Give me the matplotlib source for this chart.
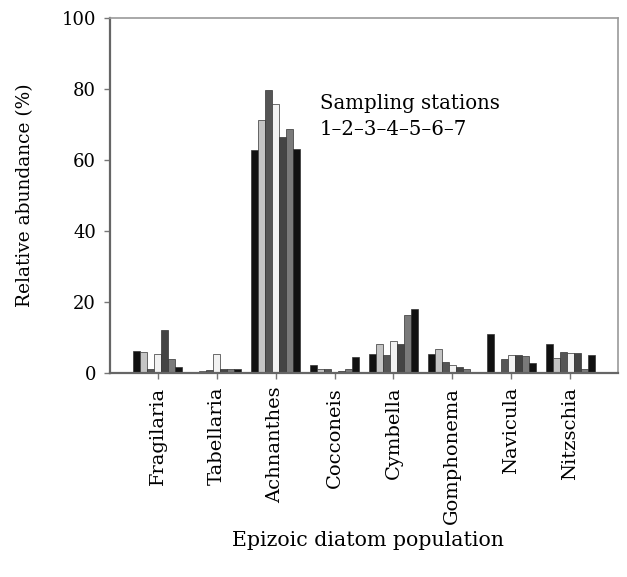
import matplotlib
matplotlib.use("Agg")
import matplotlib.pyplot as plt
import numpy as np

# genera on the x axis
genera = ["Fragilaria", "Tabellaria", "Achnanthes", "Cocconeis",
          "Cymbella", "Gomphonema", "Navicula", "Nitzschia"]

# relative abundance (%) per sampling station, one list per station
station_1 = [6.1, 0.3, 62.7, 2.2, 5.4, 5.3, 11.0, 8.3]
station_2 = [6.0, 0.5, 71.2, 1.2, 8.3, 6.7, 0.3, 4.3]
station_3 = [1.2, 0.8, 79.6, 1.0, 5.2, 3.1, 3.9, 6.0]
station_4 = [5.3, 5.3, 75.9, 0.4, 8.9, 2.2, 5.2, 5.5]
station_5 = [12.0, 1.0, 66.4, 0.5, 8.3, 1.8, 5.1, 5.5]
station_6 = [3.9, 1.0, 68.6, 1.0, 16.2, 1.2, 4.7, 1.2]
station_7 = [1.7, 1.0, 63.0, 4.4, 18.1, 0.4, 2.7, 5.2]

stations = [station_1, station_2, station_3, station_4,
            station_5, station_6, station_7]
station_colors = ["#111111", "#c4c4c4", "#555555", "#f2f2f2",
                  "#444444", "#7a7a7a", "#111111"]

plt.rcParams["font.family"] = ["DejaVu Serif"]

fig = plt.figure(figsize=(6.27, 5.77), dpi=100)
ax = fig.add_axes([0.1754, 0.3536, 0.8102, 0.6152])

x = np.arange(len(genera))
width = 0.118
for i, (vals, col) in enumerate(zip(stations, station_colors)):
    ax.bar(x + (i - 3) * width, vals, width=width, color=col,
           edgecolor="#333333", linewidth=0.5, zorder=2)

ax.set_xlim(-0.81, len(genera) - 1 + 0.81)
ax.set_ylim(0, 100)
ax.set_yticks(np.arange(0, 101, 20))
ax.set_xticks(x)
ax.set_xticklabels(genera, rotation=90, fontsize=14)
ax.tick_params(axis="y", labelsize=13, length=4, width=1, color="#777777", pad=6)
ax.tick_params(axis="x", length=4, width=1, color="#777777", pad=6)

for side in ["left", "bottom"]:
    ax.spines[side].set_color("#666666")
    ax.spines[side].set_linewidth(1.6)
for side in ["top", "right"]:
    ax.spines[side].set_color("#9a9a9a")
    ax.spines[side].set_linewidth(1.2)

ax.set_ylabel("Relative abundance (%)", fontsize=13.4, labelpad=20)
fig.text(0.587, 0.064, "Epizoic diatom population", ha="center",
         va="center", fontsize=14.8)

ax.text(2.75, 76.0, "Sampling stations", fontsize=14.2, va="center")
ax.text(2.75, 68.5, "1\u20132\u20133\u20134\u20135\u20136\u20137",
        fontsize=14.2, va="center")

fig.savefig("out.png", dpi=100, facecolor="white")
